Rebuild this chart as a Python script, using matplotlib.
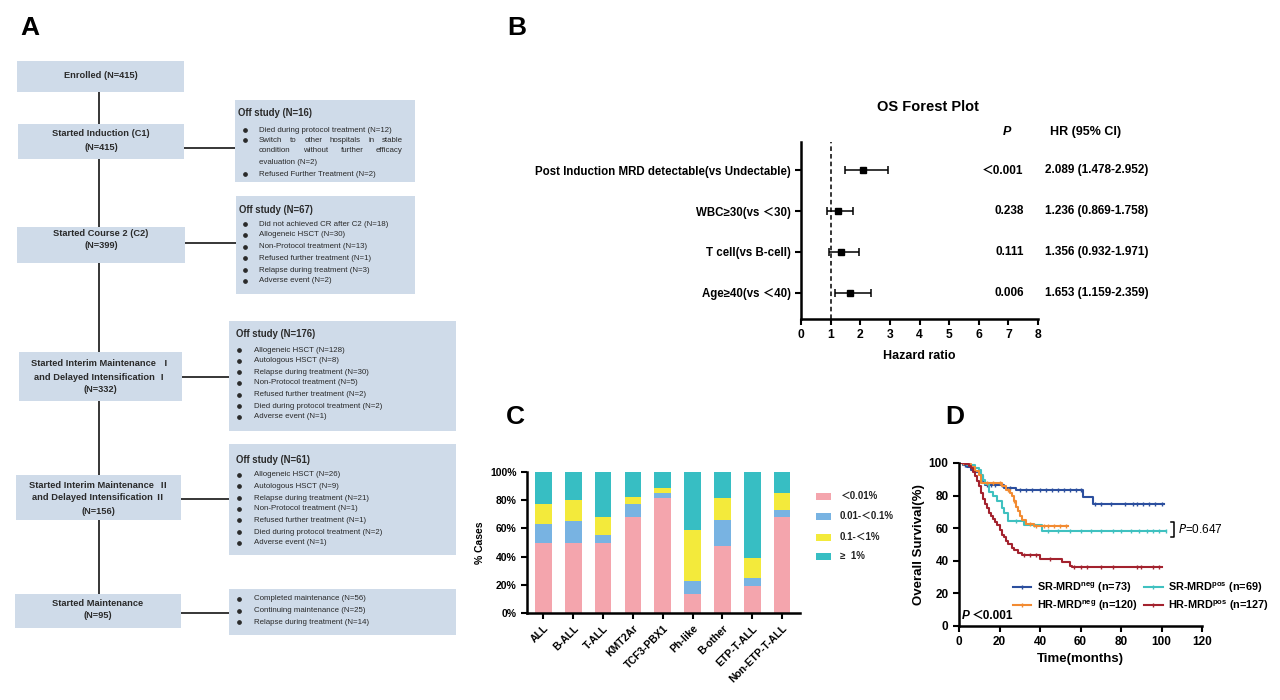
import numpy as np
import matplotlib
matplotlib.use("Agg")
import matplotlib.pyplot as plt
from matplotlib.patches import Rectangle
from matplotlib.lines import Line2D

FONT = ['Liberation Sans', 'Noto Sans CJK SC', 'DejaVu Sans']
NARROW = ['Liberation Sans Narrow', 'Liberation Sans', 'Noto Sans CJK SC', 'DejaVu Sans']
plt.rcParams['font.family'] = FONT
plt.rcParams['mathtext.default'] = 'regular'

# ---------------- data ----------------
# Panel A flowchart
main_boxes = [
    ("Enrolled (N=415)",),
    ("Started Induction (C1)", "(N=415)"),
    ("Started Course 2 (C2)", "(N=399)"),
    ("Started Interim Maintenance  \u2160", "and Delayed Intensification \u2160", "(N=332)"),
    ("Started Interim Maintenance  \u2161", "and Delayed Intensification \u2161", "(N=156)"),
    ("Started Maintenance", "(N=95)"),
]
off_titles = ["Off study (N=16)", "Off study (N=67)", "Off study (N=176)", "Off study (N=61)", None]
off_items = [
    ["Died during protocol treatment (N=12)",
     ["Switch to other hospitals in stable", "condition without further efficacy", "evaluation (N=2)"],
     "Refused Further Treatment (N=2)"],
    ["Did not achieved CR after C2 (N=18)", "Allogeneic HSCT (N=30)", "Non-Protocol treatment (N=13)",
     "Refused further treatment (N=1)", "Relapse during treatment (N=3)", "Adverse event (N=2)"],
    ["Allogeneic HSCT (N=128)", "Autologous HSCT (N=8)", "Relapse during treatment (N=30)",
     "Non-Protocol treatment (N=5)", "Refused further treatment (N=2)",
     "Died during protocol treatment (N=2)", "Adverse event (N=1)"],
    ["Allogeneic HSCT (N=26)", "Autologous HSCT (N=9)", "Relapse during treatment (N=21)",
     "Non-Protocol treatment (N=1)", "Refused further treatment (N=1)",
     "Died during protocol treatment (N=2)", "Adverse event (N=1)"],
    ["Completed maintenance (N=56)", "Continuing maintenance (N=25)", "Relapse during treatment (N=14)"],
]

# Panel B forest plot
fp_labels = ["Post Induction MRD detectable(vs Undectable)", "WBC\u226530(vs \uff1c30)",
             "T cell(vs B-cell)", "Age\u226540(vs \uff1c40)"]
fp_hr = [2.089, 1.236, 1.356, 1.653]
fp_lo = [1.478, 0.869, 0.932, 1.159]
fp_hi = [2.952, 1.758, 1.971, 2.359]
fp_p = ["\uff1c0.001", "0.238", "0.111", "0.006"]

# Panel C stacked bars
c_cats = ['ALL', 'B-ALL', 'T-ALL', 'KMT2Ar', 'TCF3-PBX1', 'Ph-like', 'B-other', 'ETP-T-ALL', 'Non-ETP-T-ALL']
c_lt001 = [49.5, 49.5, 50, 68, 81.5, 13.5, 47.5, 19.5, 68]
c_001_01 = [13.5, 16, 5, 9, 3.5, 9, 18.5, 5.5, 5]
c_01_1 = [14, 14.5, 13, 5, 4, 36.5, 15.5, 14, 12]
c_ge1 = [23, 20, 32, 18, 11, 41, 18.5, 61, 15]
c_series_labels = ["\uff1c0.01%", "0.01-\uff1c0.1%", "0.1-\uff1c1%", "\u2265  1%"]

# Panel D Kaplan-Meier
sr_neg_t = [0, 2, 4, 6, 8, 10, 11, 12, 13, 22, 28, 61, 66]
sr_neg_s = [100, 98.6, 97.3, 95.9, 94.5, 93.2, 91.8, 89.0, 86.3, 84.9, 83.4, 79.2, 75.1]
sr_neg_end = 101
sr_neg_cens = [3, 14, 16, 18, 21, 25, 30, 33, 36, 40, 43, 46, 49, 52, 55, 58, 60, 67, 70, 75, 82, 86, 88, 91, 94, 97, 100]

sr_pos_t = [0, 4, 8, 10, 11, 12, 13, 15, 17, 19, 21, 22, 24, 32, 41]
sr_pos_s = [100, 98.5, 97.1, 95.6, 92.7, 89.8, 86.9, 82.5, 79.6, 76.7, 72.3, 69.4, 64.2, 61.8, 58.5]
sr_pos_end = 102
sr_pos_cens = [28, 37, 44, 49, 55, 60, 65, 70, 76, 80, 85, 89, 93, 96, 99, 102]

hr_neg_t = [0, 3, 6, 8, 10, 11, 21, 23, 25, 26, 27, 28, 29, 30, 31, 33, 37]
hr_neg_s = [100, 99.2, 97.5, 95, 92.5, 87.5, 85.8, 83.3, 81.6, 79.9, 76.6, 73.2, 70.7, 67.3, 64.8, 62.3, 61.2]
hr_neg_end = 54
hr_neg_cens = [2, 14, 17, 20, 24, 27, 35, 38, 42, 44, 47, 50, 53]

hr_pos_t = [0, 3, 5, 6, 7, 8, 9, 10, 11, 12, 13, 14, 15, 16, 17, 18, 19, 20, 21, 22, 23, 24, 26, 27, 29, 31, 40, 51, 55, 56]
hr_pos_s = [100, 99.2, 98.4, 96.9, 94.5, 92.1, 89.0, 85.8, 81.9, 77.9, 74.8, 72.4, 69.3, 67.7, 65.4, 63.8,
            62.2, 59.1, 55.9, 54.3, 52.0, 50.4, 48.0, 46.5, 44.9, 43.3, 40.9, 39.3, 37.0, 36.2]
hr_pos_end = 100
hr_pos_cens = [32, 35, 38, 45, 57, 60, 63, 70, 76, 88, 90, 96, 99]

km_labels = [r"SR-MRD$^{neg}$ (n=73)", r"SR-MRD$^{pos}$ (n=69)",
             r"HR-MRD$^{neg}$ (n=120)", r"HR-MRD$^{pos}$ (n=127)"]

# ---------------- figure ----------------
fig = plt.figure(figsize=(12.8, 7.0), dpi=100)
fa = fig.add_axes([0, 0, 1, 1])
fa.set_xlim(0, 1280)
fa.set_ylim(700, 0)
fa.axis('off')

BOXC = '#cfdbe9'
TXT = '#2a2a2a'

# panel letters
for lab, x, y in [("A", 30, 28), ("B", 517, 28), ("C", 515, 417), ("D", 955, 417)]:
    fa.text(x, y, lab, fontsize=19, fontweight='bold', ha='center', va='center', color='black')

# Panel A geometry (pixel coords)
mb_geom = [(17, 61, 184, 92), (18, 124, 184, 159), (17, 227, 185, 263),
           (19, 352, 182, 401), (16, 475, 181, 520), (15, 594, 181, 628)]
mb_lines_y = [[76], [134, 148], [233, 245], [364, 377, 389], [486, 498, 511], [604, 616]]
conn_y = [None, 148, 243, 377, 499, 613]
ob_geom = [(235, 100, 415, 182), (236, 196, 415, 294), (229, 321, 456, 431),
           (229, 444, 456, 555), (229, 589, 456, 635)]
ob_title_y = [113, 210, 334, 460, None]
ob_item_y = [[130, [140, 151, 162], 174],
             [224, 235, 247, 258, 270, 281],
             [350, 361, 372, 383, 395, 406, 417],
             [475, 486, 498, 509, 520, 532, 543],
             [599, 611, 622]]
ob_x = [(238, 245, 259, 403), (239, 245, 259, 403), (236, 239, 254, 440),
        (236, 239, 254, 440), (236, 239, 254, 440)]

fa.plot([99, 99], [92, 594], color='black', lw=1.1, zorder=1)
for k, ((x0, y0, x1, y1), lines, cy) in enumerate(zip(mb_geom, mb_lines_y, conn_y)):
    fa.add_patch(Rectangle((x0, y0), x1 - x0, y1 - y0, facecolor=BOXC, edgecolor='none', zorder=2))
    for s, ly in zip(main_boxes[k], lines):
        fa.text((x0 + x1) / 2, ly, s, fontsize=6.7, fontweight='bold', ha='center', va='center',
                color=TXT, zorder=3)
    if cy is not None:
        ob = ob_geom[k - 1]
        fa.plot([x1, ob[0]], [cy, cy], color='black', lw=1.1, zorder=1)

fig.canvas.draw()
renderer = fig.canvas.get_renderer()


def justified(x0, x1, y, s, **kw):
    words = s.split()
    ts = [fa.text(0, y, w, ha='left', va='center', **kw) for w in words]
    widths = [t.get_window_extent(renderer).width for t in ts]
    gap = (x1 - x0 - sum(widths)) / (len(words) - 1)
    x = x0
    for t, w in zip(ts, widths):
        t.set_x(x)
        x += w + gap


for i, ((x0, y0, x1, y1), title, items, iys, (tx, bx, ix, rx)) in enumerate(
        zip(ob_geom, off_titles, off_items, ob_item_y, ob_x)):
    fa.add_patch(Rectangle((x0, y0), x1 - x0, y1 - y0, facecolor=BOXC, edgecolor='none', zorder=2))
    if title:
        fa.text(tx, ob_title_y[i], title, fontsize=6.9, ha='left', va='center', color=TXT,
                fontweight='semibold', zorder=3)
    for it, iy in zip(items, iys):
        if isinstance(it, list):
            fa.plot(bx, iy[0], 'o', ms=2.4, color=TXT, zorder=3)
            for k, (line, yy) in enumerate(zip(it, iy)):
                if k < len(it) - 1:
                    justified(ix, rx, yy, line, fontsize=5.7, color=TXT, zorder=3)
                else:
                    fa.text(ix, yy, line, fontsize=5.7, ha='left', va='center', color=TXT, zorder=3)
        else:
            fa.plot(bx, iy, 'o', ms=2.4, color=TXT, zorder=3)
            fa.text(ix, iy, it, fontsize=5.7, ha='left', va='center', color=TXT, zorder=3)

# ---------------- Panel B ----------------
axb = fig.add_axes([801 / 1280, 1 - 319 / 700, (1038 - 801) / 1280, (319 - 142) / 700])
ypos = np.arange(len(fp_labels), 0, -1)
hr = np.array(fp_hr)
xerr = np.vstack([hr - np.array(fp_lo), np.array(fp_hi) - hr])
axb.errorbar(hr, ypos, xerr=xerr, fmt='s', color='black', ms=5, capsize=3, elinewidth=1.1,
             capthick=1.1)
axb.axvline(1, color='black', ls=(0, (3, 2)), lw=1.1)
axb.set_xlim(0, 8)
axb.set_ylim(0.35, 4.7)
axb.set_xticks(range(0, 9))
axb.set_yticks(ypos)
axb.set_yticklabels(fp_labels, family=NARROW, fontsize=8.3, fontweight='bold')
for lbl in axb.get_xticklabels():
    lbl.set_family(NARROW)
    lbl.set_fontsize(8.7)
    lbl.set_fontweight('bold')
for s in ['top', 'right']:
    axb.spines[s].set_visible(False)
for s in ['left', 'bottom']:
    axb.spines[s].set_linewidth(1.8)
axb.tick_params(width=1.5, length=4)
axb.set_xlabel("Hazard ratio", family=NARROW, fontsize=9, fontweight='bold', labelpad=6)
axb.text(4.3, 5.55, "OS Forest Plot", family=NARROW, fontsize=10.5, fontweight='bold',
         ha='center', va='center', clip_on=False)
axb.text(6.95, 4.95, "P", family=NARROW, fontsize=9, fontweight='bold', style='italic',
         ha='center', va='center', clip_on=False)
axb.text(8.4, 4.95, "HR (95% CI)", family=NARROW, fontsize=9, fontweight='bold',
         ha='left', va='center', clip_on=False)
for y, p, h, l, u in zip(ypos, fp_p, fp_hr, fp_lo, fp_hi):
    axb.text(7.52, y, p, family=NARROW, fontsize=8.5, fontweight='bold', ha='right', va='center',
             clip_on=False)
    axb.text(8.24, y, f"{h:.3f} ({l:.3f}-{u:.3f})", family=NARROW, fontsize=8.5, fontweight='bold',
             ha='left', va='center', clip_on=False)

# ---------------- Panel C ----------------
axc = fig.add_axes([527 / 1280, 1 - 613 / 700, (800 - 527) / 1280, (613 - 472) / 700])
cols_c = ['#f4a5ad', '#78b3e2', '#f3ea3b', '#37bec3']
xs = np.arange(len(c_cats))
bottom = np.zeros(len(c_cats))
for vals, col in zip([c_lt001, c_001_01, c_01_1, c_ge1], cols_c):
    axc.bar(xs, vals, bottom=bottom, width=0.56, color=col, edgecolor='none')
    bottom += np.array(vals)
axc.set_xlim(-0.55, 8.6)
axc.set_ylim(0, 100)
axc.set_yticks(range(0, 101, 20))
axc.set_yticklabels([f"{v}%" for v in range(0, 101, 20)], fontsize=7.5, fontweight='bold')
axc.set_xticks(xs)
axc.set_xticklabels(c_cats, rotation=45, ha='right', rotation_mode='anchor', fontsize=7.5,
                    fontweight='bold')
axc.set_ylabel("% Cases", fontsize=7.5, fontweight='bold', labelpad=4)
for s in ['top', 'right']:
    axc.spines[s].set_visible(False)
for s in ['left', 'bottom']:
    axc.spines[s].set_linewidth(1.8)
axc.tick_params(width=1.5, length=4)
# legend C
for lab, col, ly in zip(c_series_labels, cols_c, [496, 516, 537, 556]):
    fa.add_patch(Rectangle((816, ly - 3.5), 15, 7, facecolor=col, edgecolor='none'))
    fa.text(840, ly, lab, fontsize=7, fontweight='bold', ha='left', va='center', color='#222222')

# ---------------- Panel D ----------------
axd = fig.add_axes([959 / 1280, 1 - 626 / 700, (1202 - 959) / 1280, (626 - 463) / 700])
km = [
    (sr_neg_t, sr_neg_s, sr_neg_end, sr_neg_cens, '#2c4f9e'),
    (sr_pos_t, sr_pos_s, sr_pos_end, sr_pos_cens, '#3fc1c0'),
    (hr_neg_t, hr_neg_s, hr_neg_end, hr_neg_cens, '#f28b32'),
    (hr_pos_t, hr_pos_s, hr_pos_end, hr_pos_cens, '#a3222e'),
]
handles = []
for (t, s, end, cens, col), lab in zip(km, km_labels):
    tt = list(t) + [end]
    ss = list(s) + [s[-1]]
    axd.step(tt, ss, where='post', color=col, lw=1.5)
    cens = np.array(cens)
    idx = np.searchsorted(np.array(t), cens, side='right') - 1
    axd.plot(cens, np.array(s)[idx], ls='none', marker='|', ms=3.2, mew=1.0, color=col)
    handles.append(Line2D([], [], color=col, lw=1.5, marker='|', ms=3.2, mew=1.0))
order = [0, 2, 1, 3]
axd.legend([handles[i] for i in order], [km_labels[i] for i in order], ncol=2, loc='lower left',
           bbox_to_anchor=(0.195, 0.04), frameon=False, handlelength=1.7, columnspacing=0.6,
           labelspacing=0.35, handletextpad=0.5, borderpad=0.1,
           prop={'size': 7.8, 'weight': 'bold'})
axd.set_xlim(0, 120)
axd.set_ylim(0, 100)
axd.set_xticks(range(0, 121, 20))
axd.set_yticks(range(0, 101, 20))
for lbl in axd.get_xticklabels() + axd.get_yticklabels():
    lbl.set_fontsize(8.5)
    lbl.set_fontweight('bold')
axd.set_xlabel("Time(months)", fontsize=9.5, fontweight='bold', labelpad=3)
axd.set_ylabel("Overall Survival(%)", fontsize=9.5, fontweight='bold', labelpad=3)
for s in ['top', 'right']:
    axd.spines[s].set_visible(False)
for s in ['left', 'bottom']:
    axd.spines[s].set_linewidth(1.8)
axd.tick_params(width=1.5, length=4)
axd.plot([104.5, 106, 106, 104.5], [63.5, 63.5, 54.5, 54.5], color='black', lw=1.1, clip_on=False)
axd.text(108, 59, r"$\it{P}$=0.647", fontsize=8.5, ha='left', va='center', clip_on=False)
axd.text(1.5, 6, "P", fontsize=8.5, fontweight='bold', style='italic', ha='left', va='center')
axd.text(6.2, 6, "\uff1c0.001", fontsize=8.5, fontweight='bold', ha='left', va='center',
         family=FONT)

fig.savefig("out.png", dpi=100)
